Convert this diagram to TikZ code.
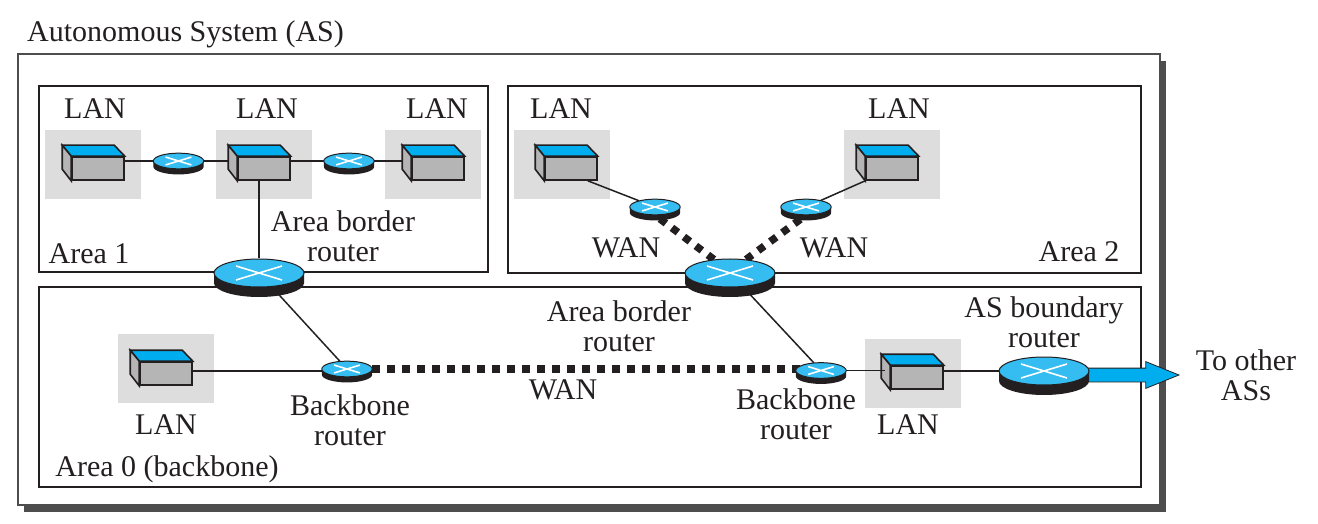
\documentclass[tikz,border=0pt]{standalone}
\usepackage{fontspec}
\setmainfont{Liberation Serif}
\usetikzlibrary{shapes.geometric,shapes.arrows}
\pgfdeclarelayer{framelayer}
\pgfdeclarelayer{linklayer}
\pgfsetlayers{framelayer,linklayer,main}
\definecolor{inkdark}{HTML}{231F20}
\definecolor{routerblue}{HTML}{35BCF0}
\definecolor{topblue}{HTML}{00AEEF}
\definecolor{boxgray}{HTML}{B5B5B5}
\definecolor{langray}{HTML}{DDDDDD}
\definecolor{shadowgray}{HTML}{4D4D4D}
\tikzset{
  link/.style={inkdark,line width=1.5pt},
  wanlink/.style={inkdark,line width=7.5pt,dash pattern=on 7.5pt off 7.5pt},
  areabox/.style={draw=inkdark,line width=1.4pt},
  routernode/.style={ellipse,draw=inkdark,line width=1pt,fill=routerblue,minimum width=90pt,minimum height=28pt,inner sep=0pt,transform shape},
  lanpatch/.style={fill=langray,minimum width=96pt,minimum height=69pt,inner sep=0pt},
  lanfront/.style={draw=inkdark,line width=1.6pt,fill=boxgray,minimum width=52pt,minimum height=23pt,inner sep=0pt},
  lbl/.style={text=inkdark,font=\fontsize{30}{30}\selectfont,align=center,inner sep=0pt},
}
% name, x, y, scale
\newcommand{\routerat}[4]{
  \begin{scope}[shift={(#2,#3)},scale=#4]
    \fill[inkdark] (-45,-10) arc[start angle=180,end angle=360,x radius=45,y radius=14] -- (45,0) -- (-45,0) -- cycle;
    \node[routernode] (#1) at (0,0) {};
    \draw[white,line width=1.6pt] (-23,-7) -- (23,7) (-23,7) -- (23,-7);
  \end{scope}
}
% name, x, y of the gray patch, x, y of the box
\newcommand{\lanat}[5]{
  \begin{pgfonlayer}{framelayer}
    \node[lanpatch] (#1patch) at (#2,#3) {};
  \end{pgfonlayer}
  \node[lanfront] (#1) at (#4,#5) {};
  \draw[inkdark,line width=1.6pt,fill=topblue] (#1.north west) -- ++(-9,11) -- ++(52,0) -- (#1.north east) -- cycle;
  \draw[inkdark,line width=1.6pt,fill=boxgray] (#1.north west) -- ++(-9,11) -- ++(0,-24) -- (#1.south west) -- cycle;
}
\begin{document}
\begin{tikzpicture}[x=1pt,y=1pt]
  \useasboundingbox (0,0) rectangle (1318,523);
  % outer box with its shadow
  \begin{pgfonlayer}{framelayer}
    \fill[shadowgray] (24,11) rectangle (1166,462);
    \draw[shadowgray,fill=white,line width=1.4pt] (18,18) rectangle (1160,469);
    % areas
    \draw[areabox] (39,251) rectangle (488,437);
    \draw[areabox] (508,250) rectangle (1141,437);
    \draw[areabox] (39,36) rectangle (1141,236);
  \end{pgfonlayer}
  \node[lbl,anchor=west] (astitle) at (27,489) {Autonomous System (AS)};
  % LANs
  \lanat{lana}{93}{358.5}{98}{354.5}
  \lanat{lanb}{264}{358.5}{264}{354.5}
  \lanat{lanc}{433}{358.5}{438}{354.5}
  \lanat{land}{562}{358.5}{571}{354.5}
  \lanat{lane}{892}{358.5}{892}{354.5}
  \lanat{lanf}{166}{154.5}{166}{149.5}
  \lanat{lang}{913}{149.5}{917}{145.5}
  % routers
  \routerat{ra}{178.5}{362}{0.56}
  \routerat{rb}{349}{362}{0.56}
  \routerat{wana}{655}{316}{0.56}
  \routerat{wanb}{806}{316}{0.56}
  \routerat{bba}{347}{154}{0.56}
  \routerat{bbb}{821}{152.5}{0.56}
  \routerat{abra}{259}{250}{1}
  \routerat{abrb}{730}{250}{1}
  \routerat{asbr}{1044}{152}{1}
  \coordinate (bbaline) at ([yshift=-2pt]bba.center);
  % links
  \begin{pgfonlayer}{linklayer}
    \begin{scope}[link]
      \draw (ra -| lana.east) -- (ra);
      \draw (ra) -- (ra -| lanb.west);
      \draw (rb -| lanb.east) -- (rb);
      \draw (rb) -- (rb -| lanc.west);
      \draw (abra |- lanb.south) -- (abra);
      \draw (land.south east) ++(-10,0) -- (wana);
      \draw (lane.south west) -- (wanb);
      \draw (abra) -- (bba);
      \draw (abrb) -- (bbb);
      \draw (bbaline -| lanf.east) -- (bbaline);
      \draw (asbr -| lang.east) -- (asbr);
    \end{scope}
    \draw[wanlink] (abrb.140) -- (wana.south);
    \draw[wanlink] (abrb.40) -- (wanb.south);
    \draw[wanlink] (bba) -- (bba -| bbb);
    % to the other systems
    \node[single arrow,anchor=tip,draw=inkdark,line width=.8pt,fill=topblue,minimum height=92pt,single arrow head extend=6.5pt,single arrow tip angle=44,inner xsep=0pt,inner ysep=6.5pt] (outarrow) at (1180,148) {};
  \end{pgfonlayer}
  \draw[link] (bbb.east) -- ([xshift=-5pt]bbb -| lang.west);
  \node[lbl] (otherlbl) at (1246,148) {To other\\ASs};
  % labels
  \node[lbl] (lbla) at (95,414) {LAN};
  \node[lbl] (lblb) at (267,414) {LAN};
  \node[lbl] (lblc) at (437,414) {LAN};
  \node[lbl] (lbld) at (561,414) {LAN};
  \node[lbl] (lble) at (899,414) {LAN};
  \node[lbl] (lblf) at (166,98) {LAN};
  \node[lbl] (lblg) at (908,98) {LAN};
  \node[lbl] (abrlbla) at (343,287) {Area border\\router};
  \node[lbl] (abrlblb) at (619,197) {Area border\\router};
  \node[lbl] (wanlbla) at (626,275) {WAN};
  \node[lbl] (wanlblb) at (834,275) {WAN};
  \node[lbl] (wanlblc) at (563,133) {WAN};
  \node[lbl] (bblbla) at (350,103) {Backbone\\router};
  \node[lbl] (bblblb) at (796,109) {Backbone\\router};
  \node[lbl] (asbrlbl) at (1044,201) {AS boundary\\router};
  \node[lbl] (arealba) at (89,269) {Area 1};
  \node[lbl] (arealbb) at (1079,271) {Area 2};
  \node[lbl] (arealbc) at (167,54) {Area 0 (backbone)};
\end{tikzpicture}
\end{document}
